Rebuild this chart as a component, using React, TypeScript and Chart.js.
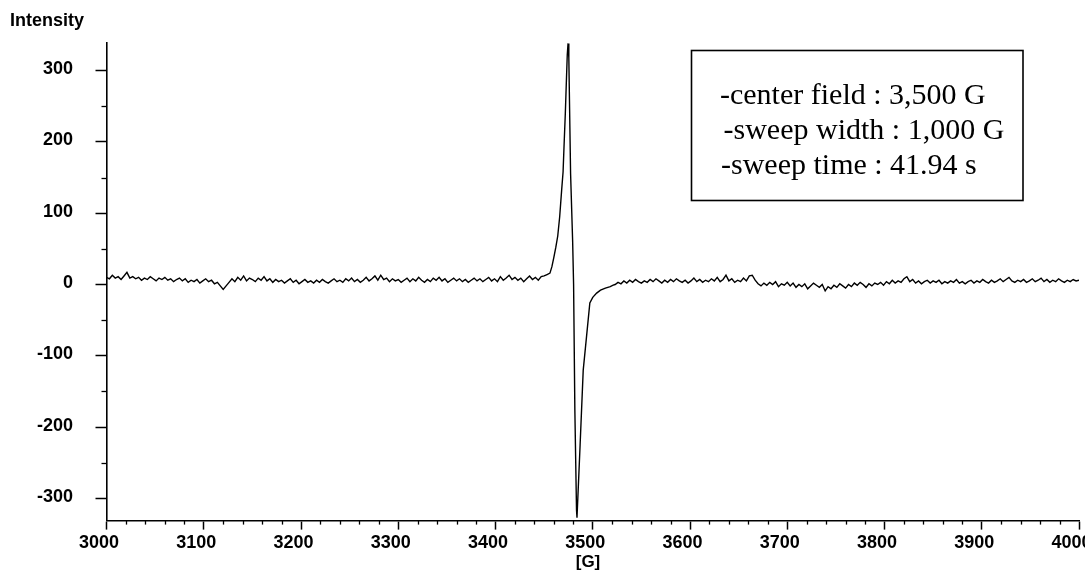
import React, { useEffect, useRef } from "react";
import { Chart, registerables } from "chart.js";

Chart.register(...registerables);

// ---- Data ----
const baselineLeftStart = 3000; // G
const baselineStep = 3; // G
const baselineLeft = [
  10, 8, 13, 9, 11, 7, 12, 17, 9, 11,
  8, 10, 6, 9, 7, 11, 8, 5, 9, 7,
  10, 6, 8, 4, 7, 9, 5, 8, 3, 6,
  4, 7, 2, 5, 8, 4, 6, 1, 3, -2,
  -7, -2, 3, 8, 4, 10, 6, 12, 5, 9,
  7, 4, 9, 6, 11, 5, 8, 3, 7, 4,
  6, 2, 5, 8, 3, 6, 1, 4, 7, 3,
  5, 2, 6, 3, 7, 4, 2, 5, 8, 4,
  6, 3, 8, 5, 9, 4, 7, 3, 6, 10,
  5, 8, 12, 6, 13, 7, 9, 4, 8, 5,
  7, 3, 6, 9, 4, 8, 5, 10, 6, 3,
  7, 4, 9, 6, 10, 5, 8, 3, 6, 9,
  5, 8, 4, 7, 3, 6, 9, 5, 8, 4,
  7, 10, 5, 8, 4, 11, 6, 9, 13, 7,
  10, 6, 9, 4, 8, 12, 7, 10, 6, 11,
  12,
];

const signalField = [
  3453, 3456, 3458, 3460, 3462, 3464, 3466, 3468, 3469.5, 3470.5,
  3471.8, 3473, 3473.8, 3474.6, 3475.4, 3477.2, 3479.3, 3480.3, 3481.6, 3483.3,
  3483.8, 3487, 3490.2, 3493.6, 3497, 3500, 3504, 3508, 3513, 3518,
  3521,
];
const signalIntensity = [
  14, 16, 25, 38, 52, 68, 95, 132, 158, 195,
  240, 290, 322, 338, 318, 156, 62, 0, -176, -316,
  -327, -225, -120, -73, -26, -18, -12, -8, -5, -3,
  -1,
];

const baselineRightStart = 3523; // G
const baselineRight = [
  0, 3, 1, 5, 2, 6, 3, 7, 4, 2,
  5, 3, 7, 4, 8, 5, 2, 6, 3, 7,
  4, 8, 5, 3, 6, 2, 5, 9, 4, 7,
  3, 6, 4, 8, 5, 10, 4, 7, 13, 5,
  8, 3, 6, 4, 9, 5, 12, 13, 6, 1,
  -2, 2, -1, 3, 0, 4, -3, 1, -1, 3,
  -2, 2, -4, 0, -3, 1, -6, -2, 2, -1,
  -4, 0, -9, -3, -6, -1, -4, 1, -2, -5,
  0, -3, 2, -1, 3, 0, -4, 1, -2, 2,
  0, 3, -1, 4, 1, 6, 2, 5, 3, 8,
  11, 4, 7, 2, 5, 1, 4, 6, 2, 5,
  3, 6, 1, 4, 2, 5, 3, 7, 2, 4,
  1, 4, 6, 2, 5, 3, 7, 4, 2, 6,
  3, 5, 8, 4, 7, 10, 5, 3, 6, 4,
  7, 3, 5, 8, 4, 6, 9, 4, 7, 3,
  6, 4, 8, 5, 3, 6, 4, 7, 5, 6,
];

const xMin = 3000;
const xMax = 4000;
const xMajorStep = 100;
const xMinorStep = 20;
const yMin = -331;
const yMax = 339;
const yMajorStep = 100;
const yMinorTicks = [-250, -150, -50, 50, 150, 250];

const yAxisTitle = "Intensity";
const xAxisTitle = "[G]";
const infoLines = [
  "-center field : 3,500 G",
  " -sweep width : 1,000 G",
  "-sweep time : 41.94 s",
];

const FONT_SANS = "'Liberation Sans', Arial, Helvetica, sans-serif";
const FONT_SERIF = "'Liberation Serif', 'Times New Roman', serif";

function buildPoints() {
  const pts: { x: number; y: number }[] = [];
  baselineLeft.forEach((v, i) => pts.push({ x: baselineLeftStart + i * baselineStep, y: v }));
  signalField.forEach((f, i) => pts.push({ x: f, y: signalIntensity[i] }));
  baselineRight.forEach((v, i) => pts.push({ x: baselineRightStart + i * baselineStep, y: v }));
  return pts;
}

const decorPlugin = {
  id: "decor",
  afterDraw(chart: any) {
    const ctx = chart.ctx as CanvasRenderingContext2D;
    const area = chart.chartArea;
    const xs = chart.scales.x;
    const ys = chart.scales.y;
    ctx.save();
    ctx.strokeStyle = "#000";
    ctx.lineWidth = 1.3;
    // minor ticks
    for (const v of yMinorTicks) {
      const py = Math.round(ys.getPixelForValue(v)) + 0.5;
      ctx.beginPath();
      ctx.moveTo(area.left - 5, py);
      ctx.lineTo(area.left, py);
      ctx.stroke();
    }
    for (let v = xMin + xMinorStep; v < xMax; v += xMinorStep) {
      if (v % xMajorStep === 0) continue;
      const px = Math.round(xs.getPixelForValue(v)) + 0.5;
      ctx.beginPath();
      ctx.moveTo(px, area.bottom);
      ctx.lineTo(px, area.bottom + 4);
      ctx.stroke();
    }
    // axis titles
    ctx.fillStyle = "#000";
    ctx.font = `bold 18px ${FONT_SANS}`;
    ctx.textAlign = "left";
    ctx.textBaseline = "middle";
    ctx.fillText(yAxisTitle, 10, 21);
    ctx.font = `bold 17px ${FONT_SANS}`;
    ctx.textAlign = "center";
    ctx.fillText(xAxisTitle, 588, 562);
    // info box
    ctx.lineWidth = 1.6;
    ctx.strokeRect(691.5, 50.5, 331.5, 150);
    ctx.font = `30px ${FONT_SERIF}`;
    ctx.textAlign = "left";
    ctx.textBaseline = "alphabetic";
    const xs0 = [720, 716, 721];
    infoLines.forEach((t, i) => ctx.fillText(t, xs0[i], 104 + i * 35));
    ctx.restore();
  },
};

export default function App() {
  const ref = useRef<HTMLCanvasElement | null>(null);
  useEffect(() => {
    document.body.style.margin = "0";
    const canvas = ref.current;
    if (!canvas) return;
    const chart = new Chart(canvas, {
      type: "line",
      data: {
        datasets: [
          {
            data: buildPoints(),
            borderColor: "#000",
            borderWidth: 1.4,
            pointRadius: 0,
            tension: 0,
            fill: false,
          },
        ],
      },
      options: {
        animation: false,
        responsive: false,
        layout: { padding: { top: 42.7, right: 6, bottom: 0, left: 0 } },
        plugins: { legend: { display: false }, tooltip: { enabled: false } },
        scales: {
          x: {
            type: "linear",
            min: xMin,
            max: xMax,
            border: { color: "#000", width: 1.6 },
            grid: {
              drawOnChartArea: false,
              drawTicks: true,
              tickLength: 9,
              tickColor: "#000",
              tickWidth: 1.5,
            },
            ticks: {
              stepSize: xMajorStep,
              includeBounds: false,
              autoSkip: false,
              maxRotation: 0,
              color: "#000",
              padding: 3,
              labelOffset: -7.5,
              font: { family: FONT_SANS, size: 18, weight: "bold" },
              callback: (v: any) => String(v),
            },
            afterFit: (s: any) => {
              s.height = 51.4;
              s.paddingLeft = 0;
              s.paddingRight = 0;
            },
          },
          y: {
            type: "linear",
            min: yMin,
            max: yMax,
            border: { color: "#000", width: 1.6 },
            grid: {
              drawOnChartArea: false,
              drawTicks: true,
              tickLength: 11,
              tickColor: "#000",
              tickWidth: 1.5,
            },
            ticks: {
              stepSize: yMajorStep,
              includeBounds: false,
              color: "#000",
              padding: 22.5,
              labelOffset: -1.5,
              font: { family: FONT_SANS, size: 18, weight: "bold" },
              callback: (v: any) => String(v),
            },
            afterFit: (s: any) => {
              s.width = 106.5;
              s.paddingTop = 0;
              s.paddingBottom = 0;
            },
          },
        },
      },
      plugins: [decorPlugin],
    } as any);
    return () => chart.destroy();
  }, []);
  return <canvas ref={ref} width={1085} height={572} style={{ display: "block" }} />;
}
